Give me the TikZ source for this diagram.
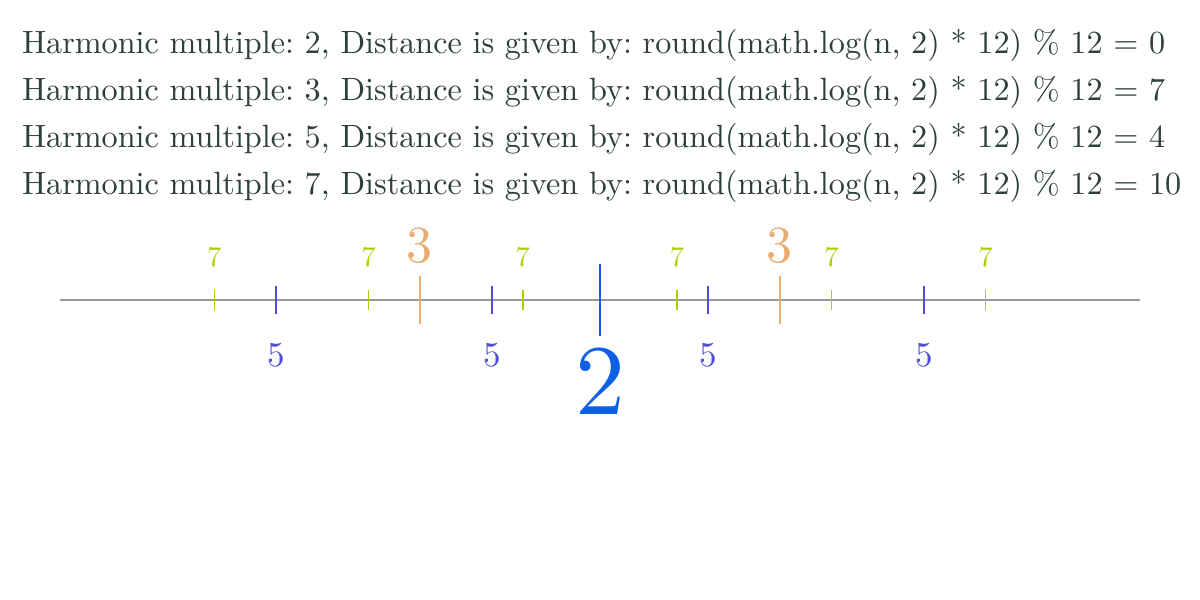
\documentclass[tikz,border=0pt]{standalone}
\usepackage{fontspec}
\usepackage{tikz}
\usetikzlibrary{calc}
\newfontfamily\lmten{lmroman10-regular.otf}
\definecolor{TextSlate}{HTML}{2F3E3E}
\definecolor{AxisGray}{HTML}{999999}
\definecolor{HarmTwo}{HTML}{1060E6}
\definecolor{HarmThree}{HTML}{E8AC72}
\definecolor{HarmFive}{HTML}{4E4ED8}
\definecolor{HarmSeven}{HTML}{B2CC00}

\begin{document}
\frenchspacing
\begin{tikzpicture}[x=0.5pt, y=-0.5pt, every node/.style={inner sep=0pt, outer sep=0pt}]
  \useasboundingbox (0,0) rectangle (1200,600);
  % one line of text per harmonic
  \foreach \hm/\dist [count=\i] in {2/0,3/7,5/4,7/10}{
    \node[anchor=base west, text=TextSlate, font=\lmten\fontsize{16.1}{19}\selectfont] (txt\hm) at (22,6+47*\i)
      {Harmonic multiple: \hm, Distance is given by: round(math.log(n, 2) * 12) \% 12 = \dist};
  }
  % axis
  \coordinate (axL) at (60,300);
  \coordinate (axR) at (1140,300);
  \draw[AxisGray, line width=0.7pt] (axL) -- (axR);
  % ticks, half length 72/n, labels above or below
  \foreach \hm/\col/\fs/\ly in {2/HarmTwo/50/414, 3/HarmThree/26/262, 5/HarmFive/17.5/366, 7/HarmSeven/14.3/266}{
    \pgfmathtruncatemacro{\last}{\hm-1}
    \foreach \k in {1,...,\last}{
      \coordinate (t\hm-\k) at ($(axL)!\k/\hm!(axR)$);
      \draw[\col, line width=0.7pt] (t\hm-\k) ++(0,-72/\hm) -- ++(0,144/\hm);
      \node[anchor=base, text=\col, font=\lmten\fontsize{\fs}{\fs}\selectfont] (lab\hm-\k) at (t\hm-\k |- 0,\ly) {\hm};
    }
  }
\end{tikzpicture}
\end{document}
